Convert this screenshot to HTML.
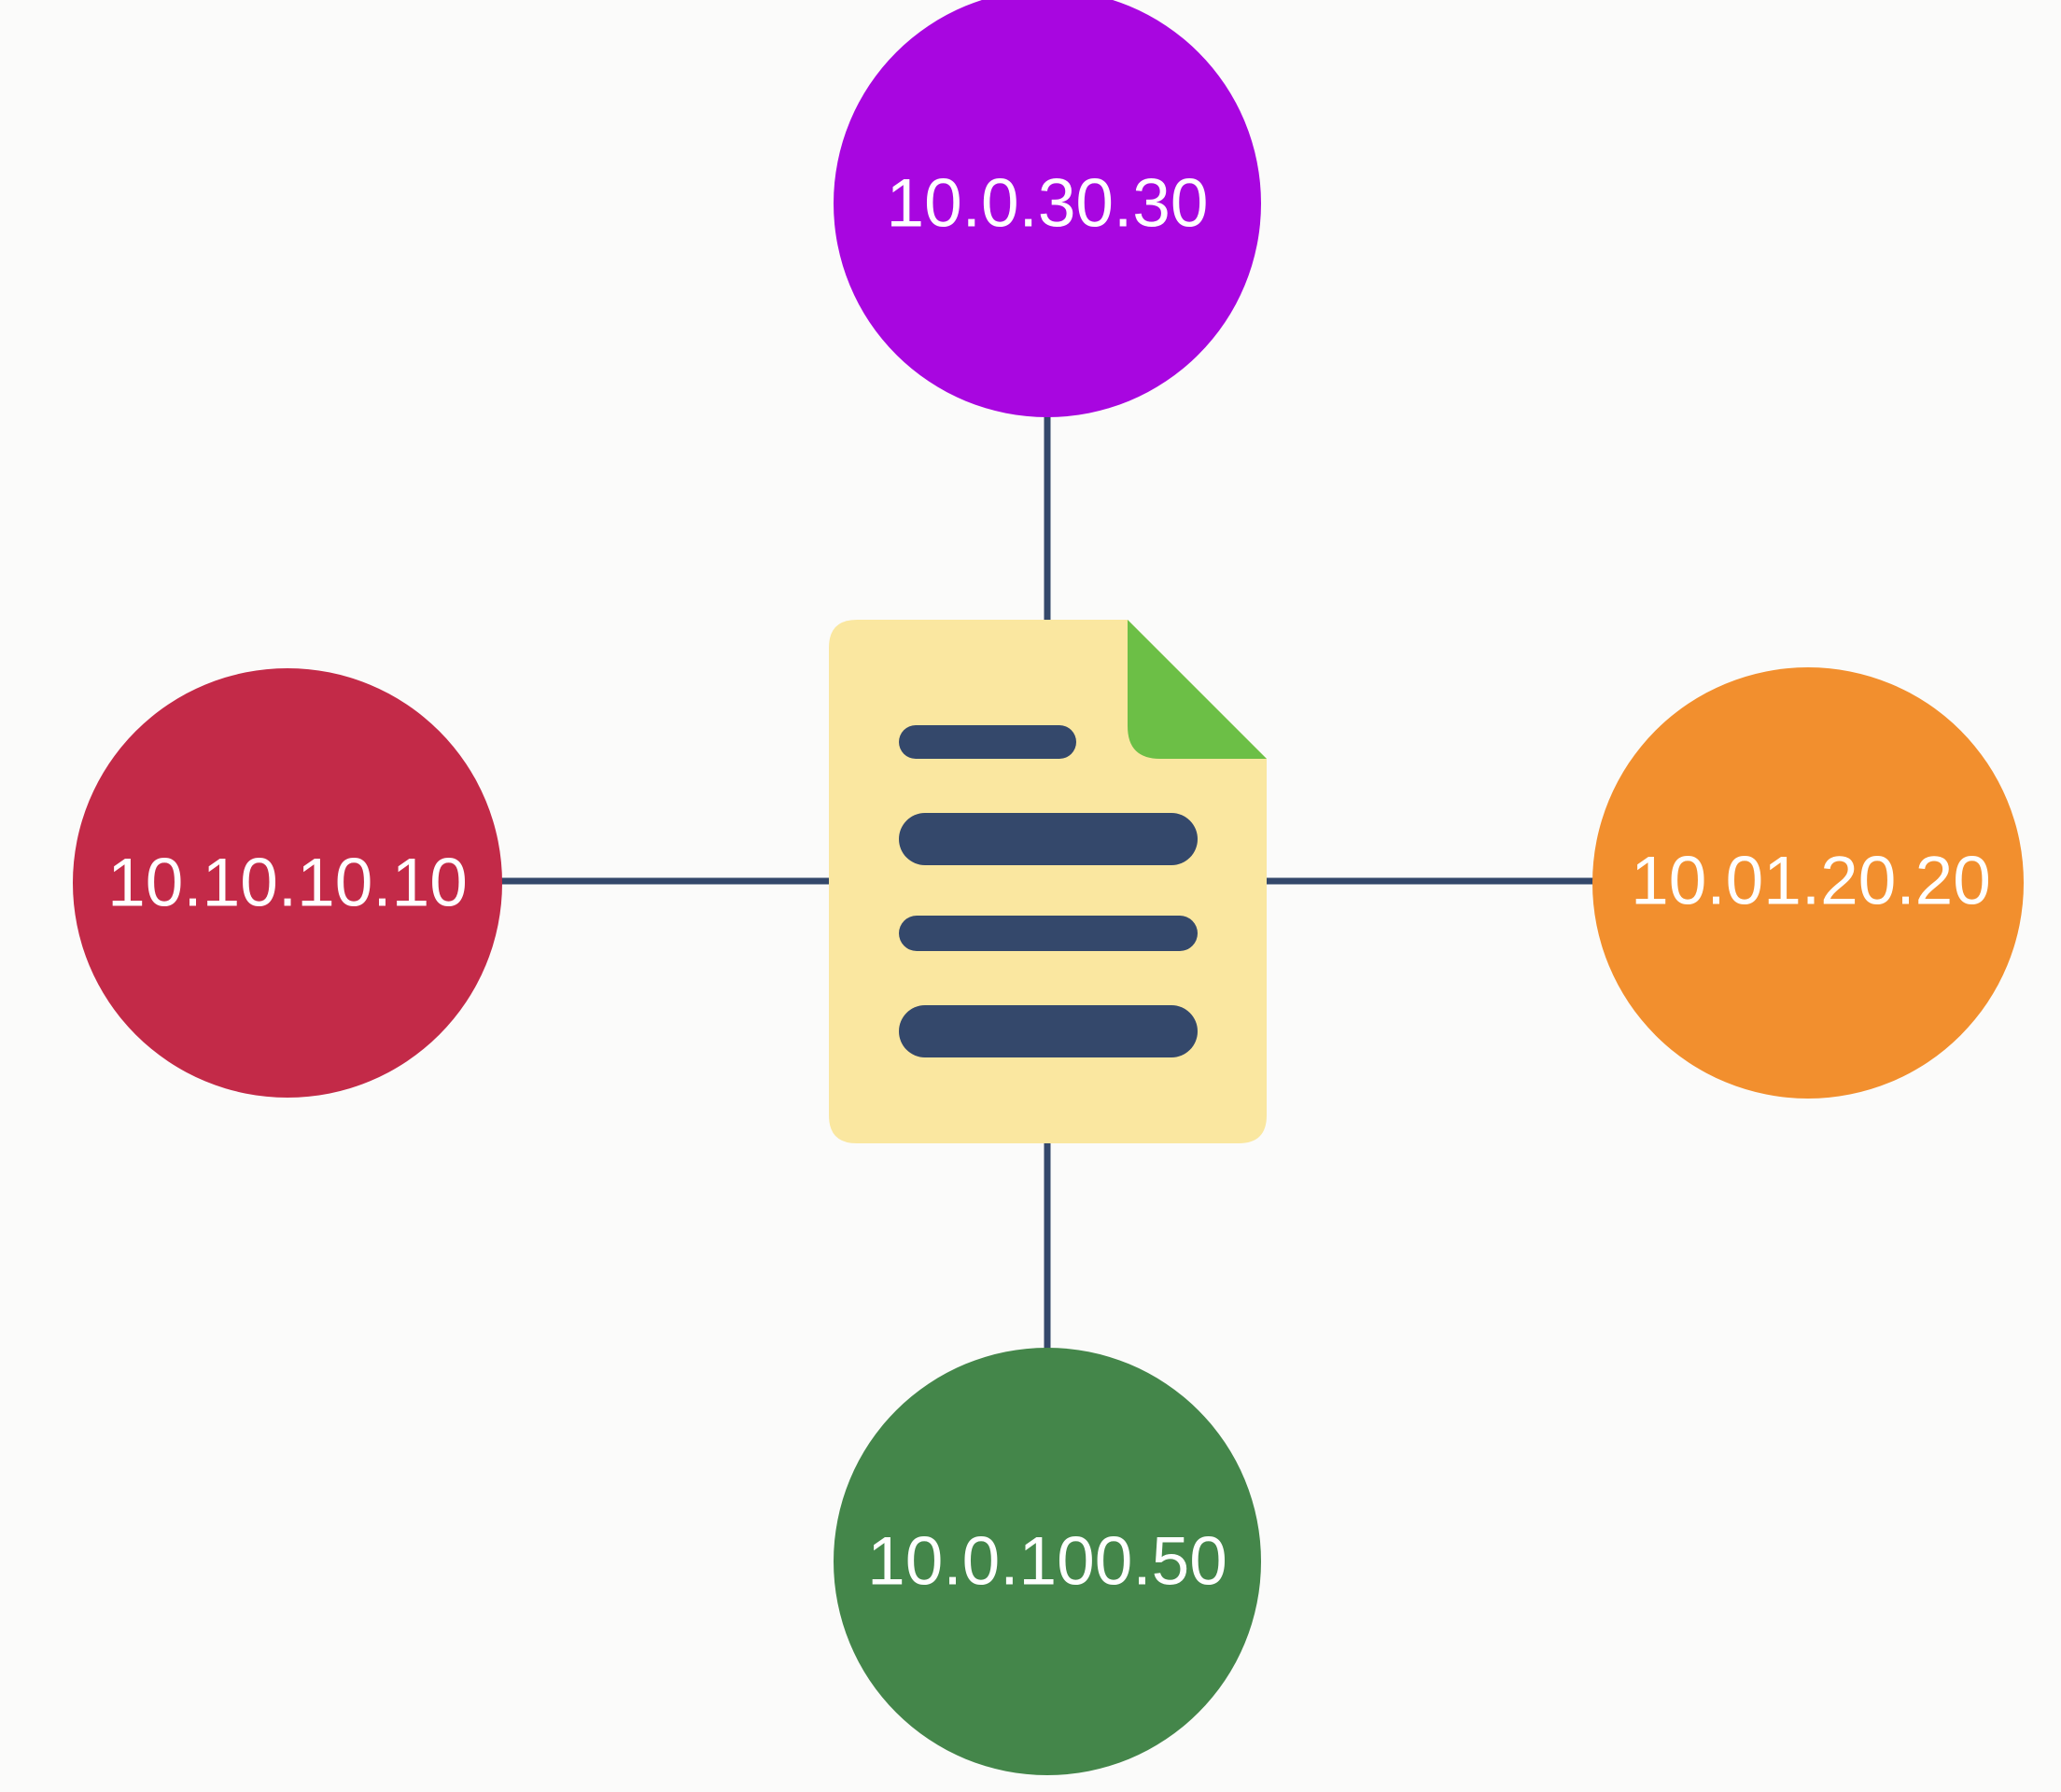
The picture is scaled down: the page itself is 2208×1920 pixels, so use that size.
<!DOCTYPE html>
<html><head><style>
html,body{margin:0;padding:0;background:#fbfbfa;}
svg{display:block;}
text{font-family:"Liberation Sans",sans-serif;font-size:73px;fill:#fff;text-anchor:middle;dominant-baseline:central;}
</style></head><body>
<svg width="2208" height="1920" viewBox="0 0 2208 1920">
<rect width="2208" height="1920" fill="#fbfbfa"/>
<g stroke="#34486b" stroke-width="7">
<line x1="1122" y1="440" x2="1122" y2="670"/>
<line x1="1122" y1="1220" x2="1122" y2="1450"/>
<line x1="535" y1="944" x2="890" y2="944"/>
<line x1="1354" y1="944" x2="1710" y2="944"/>
</g>
<circle cx="1122" cy="218" r="229" fill="#a806e0"/>
<circle cx="308" cy="946" r="230" fill="#c32a48"/>
<circle cx="1937" cy="946" r="231" fill="#f28f2e"/>
<circle cx="1122" cy="1673" r="229" fill="#44864a"/>
<text x="1122" y="218">10.0.30.30</text>
<text x="308" y="946">10.10.10.10</text>
<text x="1940" y="944">10.01.20.20</text>
<text x="1122" y="1673">10.0.100.50</text>
<path d="M918 664 H1208 L1357 813 V1195 Q1357 1225 1327 1225 H918 Q888 1225 888 1195 V694 Q888 664 918 664 Z" fill="#fae7a0"/>
<path d="M1208 664 L1357 813 H1243 Q1208 813 1208 778 Z" fill="#6cbf46"/>
<g fill="#34486b">
<rect x="963" y="777" width="190" height="36" rx="18"/>
<rect x="963" y="871" width="320" height="56" rx="28"/>
<rect x="963" y="981" width="320" height="38" rx="19"/>
<rect x="963" y="1077" width="320" height="56" rx="28"/>
</g>
</svg>
</body></html>
